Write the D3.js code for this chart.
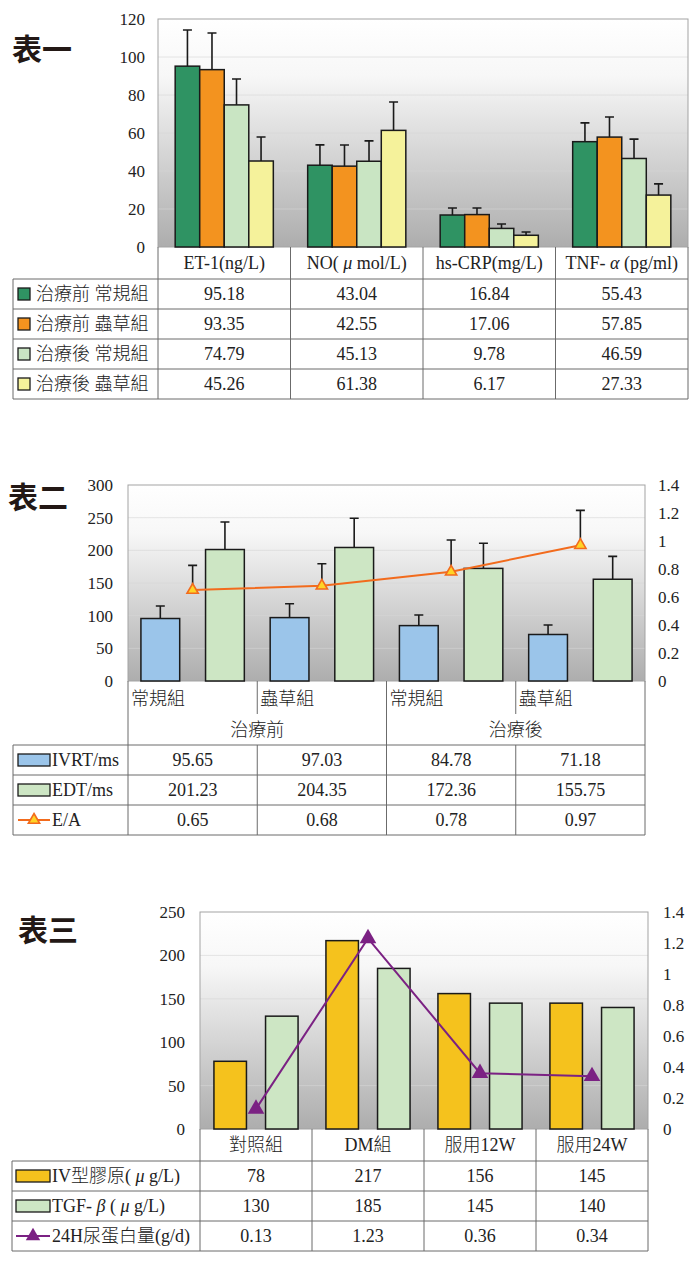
<!DOCTYPE html>
<html>
<head>
<meta charset="utf-8">
<script src="https://cdn.jsdelivr.net/npm/d3@7"></script>
<style>
  body { margin: 0; background: #fff; }
  text { font-family: "Liberation Serif", "Noto Sans CJK TC", serif; font-weight: 300; fill: #222; }
  .title { font-family: "Noto Sans CJK TC", sans-serif; font-weight: bold; fill: #231815; }
</style>
</head>
<body>
<script>
// 表一
const t1Categories = ['ET-1(ng/L)', 'NO( μ mol/L)', 'hs-CRP(mg/L)', 'TNF- α (pg/ml)'];
const t1Series = ['治療前 常規組', '治療前 蟲草組', '治療後 常規組', '治療後 蟲草組'];
const t1Values = [
  [95.18, 43.04, 16.84, 55.43],
  [93.35, 42.55, 17.06, 57.85],
  [74.79, 45.13, 9.78, 46.59],
  [45.26, 61.38, 6.17, 27.33]
];
const t1Errors = [
  [19.0, 10.7, 3.7, 9.9],
  [19.3, 11.1, 3.5, 10.6],
  [13.6, 10.7, 2.3, 10.2],
  [12.6, 14.9, 1.7, 5.9]
];
const t1Ticks = [0, 20, 40, 60, 80, 100, 120];

// 表二
const t2Groups = ['治療前', '治療後'];
const t2Categories = ['常規組', '蟲草組', '常規組', '蟲草組'];
const t2Series = ['IVRT/ms', 'EDT/ms', 'E/A'];
const t2Ivrt = [95.65, 97.03, 84.78, 71.18];
const t2IvrtErr = [19.2, 21.3, 16.2, 14.5];
const t2Edt = [201.23, 204.35, 172.36, 155.75];
const t2EdtErr = [42.2, 44.7, 38.4, 35.0];
const t2Ea = [0.65, 0.68, 0.78, 0.97];
const t2EaErr = [0.176, 0.158, 0.227, 0.249];
const t2TicksLeft = [0, 50, 100, 150, 200, 250, 300];
const t2TicksRight = [0, 0.2, 0.4, 0.6, 0.8, 1, 1.2, 1.4];

// 表三
const t3Categories = ['對照組', 'DM組', '服用12W', '服用24W'];
const t3Series = ['IV型膠原( μ g/L)', 'TGF- β ( μ g/L)', '24H尿蛋白量(g/d)'];
const t3Collagen = [78, 217, 156, 145];
const t3Tgf = [130, 185, 145, 140];
const t3Protein = [0.13, 1.23, 0.36, 0.34];
const t3TicksLeft = [0, 50, 100, 150, 200, 250];
const t3TicksRight = [0, 0.2, 0.4, 0.6, 0.8, 1, 1.2, 1.4];

const W = 700, H = 1263;
const svg = d3.select('body').append('svg').attr('width', W).attr('height', H);

const grad = svg.append('defs').append('linearGradient')
  .attr('id', 'plotBg').attr('x1', 0).attr('y1', 0).attr('x2', 0).attr('y2', 1);
grad.append('stop').attr('offset', '0%').attr('stop-color', '#ffffff');
grad.append('stop').attr('offset', '25%').attr('stop-color', '#f7f7f7');
grad.append('stop').attr('offset', '100%').attr('stop-color', '#adadad');

// text with italic greek letters
function richText(sel, str) {
  str.split(/([αβμ])/).filter(p => p.length).forEach(p => {
    sel.append('tspan')
      .style('font-style', /[αβμ]/.test(p) ? 'italic' : null)
      .text(p);
  });
  return sel;
}

function line(g, x1, y1, x2, y2, color) {
  return g.append('line').attr('x1', x1).attr('y1', y1).attr('x2', x2).attr('y2', y2)
    .attr('stroke', color || '#6b6b6b').attr('stroke-width', 1);
}

function plotFrame(g, p, y, ticks) {
  g.append('rect').attr('x', p.x0).attr('y', p.y0)
    .attr('width', p.x1 - p.x0).attr('height', p.y1 - p.y0)
    .attr('fill', 'url(#plotBg)');
  g.selectAll('.grid').data(ticks.slice(1, -1)).join('line')
    .attr('x1', p.x0).attr('x2', p.x1)
    .attr('y1', d => y(d)).attr('y2', d => y(d))
    .attr('stroke', '#d6d6d6').attr('stroke-opacity', 0.6);
  g.append('rect').attr('x', p.x0).attr('y', p.y0)
    .attr('width', p.x1 - p.x0).attr('height', p.y1 - p.y0)
    .attr('fill', 'none').attr('stroke', '#a3a3a3');
}

function yAxis(g, scale, ticks, x, side, pad, fmt) {
  const axis = (side === 'left' ? d3.axisLeft(scale) : d3.axisRight(scale))
    .tickValues(ticks).tickSize(0).tickPadding(pad).tickFormat(fmt || (d => d));
  const a = g.append('g').attr('transform', `translate(${x},0)`).call(axis);
  a.attr('font-family', null);
  a.select('.domain').remove();
  a.selectAll('text').attr('font-size', 17).attr('fill', '#333');
}

function errorBars(g, data, cap) {
  g.selectAll(null).data(data).join('path')
    .attr('d', d => `M${d.x},${d.y0}V${d.y1}M${d.x - cap / 2},${d.y1}H${d.x + cap / 2}`)
    .attr('fill', 'none').attr('stroke', '#1a1a1a').attr('stroke-width', 1.6);
}

function cellText(g, x, y, str, anchor) {
  return richText(g.append('text').attr('x', x).attr('y', y).attr('dy', '0.36em')
    .attr('text-anchor', anchor || 'middle').attr('font-size', 18), str);
}

// ---------- 表一 ----------
(function() {
  const p = { x0: 158, x1: 688, y0: 19, y1: 247 };
  const colors = ['#2f9363', '#f3931f', '#c9e5c3', '#f5f29b'];
  const g = svg.append('g');
  const x = d3.scaleBand().domain(t1Categories).range([p.x0, p.x1]);
  const xs = d3.scaleBand().domain(d3.range(t1Series.length)).range([0, x.bandwidth()])
    .paddingInner(0).paddingOuter(0.7);
  const y = d3.scaleLinear().domain([0, 120]).range([p.y1, p.y0]);

  plotFrame(g, p, y, t1Ticks);
  yAxis(g, y, t1Ticks, p.x0, 'left', 13);

  const bars = [], errs = [];
  t1Series.forEach((s, i) => t1Categories.forEach((c, j) => {
    const bx = x(c) + xs(i);
    bars.push({ x: bx, v: t1Values[i][j], c: colors[i] });
    errs.push({ x: bx + xs.bandwidth() / 2, y0: y(t1Values[i][j]), y1: y(t1Values[i][j] + t1Errors[i][j]) });
  }));
  errorBars(g, errs, 9);
  g.selectAll('.bar').data(bars).join('rect')
    .attr('x', d => d.x).attr('y', d => y(d.v))
    .attr('width', xs.bandwidth()).attr('height', d => y(0) - y(d.v))
    .attr('fill', d => d.c).attr('stroke', '#1a1a1a').attr('stroke-width', 1.5);

  // table
  const hTop = p.y1, rTop = 279, rowH = 30, left = 13;
  const rBot = rTop + rowH * t1Series.length;
  t1Categories.forEach(c => cellText(g, x(c) + x.bandwidth() / 2, (hTop + rTop) / 2, c));
  t1Categories.forEach(c => line(g, x(c), hTop, x(c), rBot));
  line(g, p.x1, hTop, p.x1, rBot);
  line(g, left, rTop, left, rBot);
  d3.range(t1Series.length + 1).forEach(k => line(g, left, rTop + k * rowH, p.x1, rTop + k * rowH));
  t1Series.forEach((s, i) => {
    const cy = rTop + i * rowH + rowH / 2;
    g.append('rect').attr('x', 18).attr('y', cy - 6).attr('width', 12).attr('height', 12)
      .attr('fill', colors[i]).attr('stroke', '#1a1a1a').attr('stroke-width', 1.3);
    cellText(g, 36, cy, s, 'start');
    t1Categories.forEach((c, j) => cellText(g, x(c) + x.bandwidth() / 2, cy, t1Values[i][j].toFixed(2)));
  });

  svg.append('text').attr('class', 'title').attr('x', 12).attr('y', 60)
    .attr('font-size', 30).text('表一');
})();

// ---------- 表二 ----------
(function() {
  const p = { x0: 128, x1: 645, y0: 485, y1: 681 };
  const colors = ['#9bc5ea', '#cde6c4', '#f26b1d'];
  const g = svg.append('g');
  const x = d3.scaleBand().domain(d3.range(t2Categories.length)).range([p.x0, p.x1]);
  const xs = d3.scaleBand().domain([0, 1]).range([0, x.bandwidth()])
    .paddingInner(0.4).paddingOuter(0.2);
  const y = d3.scaleLinear().domain([0, 300]).range([p.y1, p.y0]);
  const y2 = d3.scaleLinear().domain([0, 1.4]).range([p.y1, p.y0]);

  plotFrame(g, p, y, t2TicksLeft);
  yAxis(g, y, t2TicksLeft, p.x0, 'left', 15);
  yAxis(g, y2, t2TicksRight, p.x1, 'right', 13, d => String(+d.toFixed(1)));

  const series = [
    { v: t2Ivrt, e: t2IvrtErr, c: colors[0] },
    { v: t2Edt, e: t2EdtErr, c: colors[1] }
  ];
  const bars = [], errs = [];
  series.forEach((s, i) => s.v.forEach((v, j) => {
    const bx = x(j) + xs(i);
    bars.push({ x: bx, v: v, c: s.c });
    errs.push({ x: bx + xs.bandwidth() / 2, y0: y(v), y1: y(v + s.e[j]) });
  }));
  t2Ea.forEach((v, j) => errs.push({ x: x(j) + x.bandwidth() / 2, y0: y2(v), y1: y2(v + t2EaErr[j]) }));
  errorBars(g, errs, 9);
  g.selectAll('.bar').data(bars).join('rect')
    .attr('x', d => d.x).attr('y', d => y(d.v))
    .attr('width', xs.bandwidth()).attr('height', d => y(0) - y(d.v))
    .attr('fill', d => d.c).attr('stroke', '#1a1a1a').attr('stroke-width', 1.5);

  const pts = t2Ea.map((v, j) => [x(j) + x.bandwidth() / 2, y2(v)]);
  g.append('path').attr('d', d3.line()(pts))
    .attr('fill', 'none').attr('stroke', colors[2]).attr('stroke-width', 2);
  const tri = d3.symbol().type(d3.symbolTriangle).size(55);
  g.selectAll('.mk').data(pts).join('path')
    .attr('transform', d => `translate(${d[0]},${d[1]})`).attr('d', tri)
    .attr('fill', '#ffd426').attr('stroke', colors[2]).attr('stroke-width', 1.6);

  // category header and table
  const catBot = 714, grpBot = 745, rowH = 30, left = 13;
  const rBot = grpBot + rowH * t2Series.length;
  t2Categories.forEach((c, j) => cellText(g, x(j) + 3, (p.y1 + catBot) / 2 + 1, c, 'start'));
  t2Groups.forEach((gr, k) => cellText(g, x(k * 2) + x.bandwidth(), (catBot + grpBot) / 2, gr));
  line(g, p.x0, p.y1, p.x0, rBot);
  line(g, p.x1, p.y1, p.x1, rBot);
  [1, 3].forEach(j => line(g, x(j), p.y1, x(j), catBot));
  line(g, x(2), p.y1, x(2), rBot);
  [1, 3].forEach(j => line(g, x(j), grpBot, x(j), rBot));
  line(g, left, grpBot, left, rBot);
  d3.range(t2Series.length + 1).forEach(k => line(g, left, grpBot + k * rowH, p.x1, grpBot + k * rowH));

  const rows = [t2Ivrt, t2Edt, t2Ea];
  t2Series.forEach((s, i) => {
    const cy = grpBot + i * rowH + rowH / 2;
    if (i < 2) {
      g.append('rect').attr('x', 18).attr('y', cy - 6).attr('width', 32).attr('height', 12)
        .attr('fill', colors[i]).attr('stroke', '#1a1a1a').attr('stroke-width', 1.3);
    } else {
      line(g, 18, cy, 50, cy, colors[2]).attr('stroke-width', 2);
      g.append('path').attr('transform', `translate(34,${cy})`).attr('d', tri)
        .attr('fill', '#ffd426').attr('stroke', colors[2]).attr('stroke-width', 1.6);
    }
    cellText(g, 52, cy, s, 'start');
    rows[i].forEach((v, j) => cellText(g, x(j) + x.bandwidth() / 2, cy, v.toFixed(2)));
  });

  svg.append('text').attr('class', 'title').attr('x', 8).attr('y', 508)
    .attr('font-size', 30).text('表二');
})();

// ---------- 表三 ----------
(function() {
  const p = { x0: 200, x1: 648, y0: 912, y1: 1129 };
  const colors = ['#f5c21d', '#cde6c4', '#7b2183'];
  const g = svg.append('g');
  const x = d3.scaleBand().domain(t3Categories).range([p.x0, p.x1]);
  const xs = d3.scaleBand().domain([0, 1]).range([0, x.bandwidth()])
    .paddingInner(0.37).paddingOuter(0.27);
  const y = d3.scaleLinear().domain([0, 250]).range([p.y1, p.y0]);
  const y2 = d3.scaleLinear().domain([0, 1.4]).range([p.y1, p.y0]);

  plotFrame(g, p, y, t3TicksLeft);
  yAxis(g, y, t3TicksLeft, p.x0, 'left', 15);
  yAxis(g, y2, t3TicksRight, p.x1, 'right', 15, d => String(+d.toFixed(1)));

  const series = [{ v: t3Collagen, c: colors[0] }, { v: t3Tgf, c: colors[1] }];
  const bars = [];
  series.forEach((s, i) => s.v.forEach((v, j) => bars.push({ x: x(t3Categories[j]) + xs(i), v: v, c: s.c })));
  g.selectAll('.bar').data(bars).join('rect')
    .attr('x', d => d.x).attr('y', d => y(d.v))
    .attr('width', xs.bandwidth()).attr('height', d => y(0) - y(d.v))
    .attr('fill', d => d.c).attr('stroke', '#1a1a1a').attr('stroke-width', 1.5);

  const pts = t3Protein.map((v, j) => [x(t3Categories[j]) + x.bandwidth() / 2, y2(v)]);
  g.append('path').attr('d', d3.line()(pts))
    .attr('fill', 'none').attr('stroke', colors[2]).attr('stroke-width', 2);
  const tri = d3.symbol().type(d3.symbolTriangle).size(120);
  g.selectAll('.mk').data(pts).join('path')
    .attr('transform', d => `translate(${d[0]},${d[1]})`).attr('d', tri)
    .attr('fill', colors[2]);

  const hBot = 1161, rowH = 30, left = 12;
  const rBot = hBot + rowH * t3Series.length;
  t3Categories.forEach(c => cellText(g, x(c) + x.bandwidth() / 2, (p.y1 + hBot) / 2, c));
  t3Categories.forEach(c => line(g, x(c), p.y1, x(c), rBot));
  line(g, p.x1, p.y1, p.x1, rBot);
  line(g, left, hBot, left, rBot);
  d3.range(t3Series.length + 1).forEach(k => line(g, left, hBot + k * rowH, p.x1, hBot + k * rowH));

  const rows = [t3Collagen, t3Tgf, t3Protein];
  t3Series.forEach((s, i) => {
    const cy = hBot + i * rowH + rowH / 2;
    if (i < 2) {
      g.append('rect').attr('x', 16).attr('y', cy - 6).attr('width', 34).attr('height', 12)
        .attr('fill', colors[i]).attr('stroke', '#1a1a1a').attr('stroke-width', 1.3);
    } else {
      line(g, 16, cy, 50, cy, colors[2]).attr('stroke-width', 2);
      g.append('path').attr('transform', `translate(33,${cy})`)
        .attr('d', d3.symbol().type(d3.symbolTriangle).size(90)).attr('fill', colors[2]);
    }
    cellText(g, 52, cy, s, 'start');
    rows[i].forEach((v, j) => cellText(g, x(t3Categories[j]) + x.bandwidth() / 2, cy, i < 2 ? String(v) : v.toFixed(2)));
  });

  svg.append('text').attr('class', 'title').attr('x', 18).attr('y', 941)
    .attr('font-size', 30).text('表三');
})();
</script>
</body>
</html>
